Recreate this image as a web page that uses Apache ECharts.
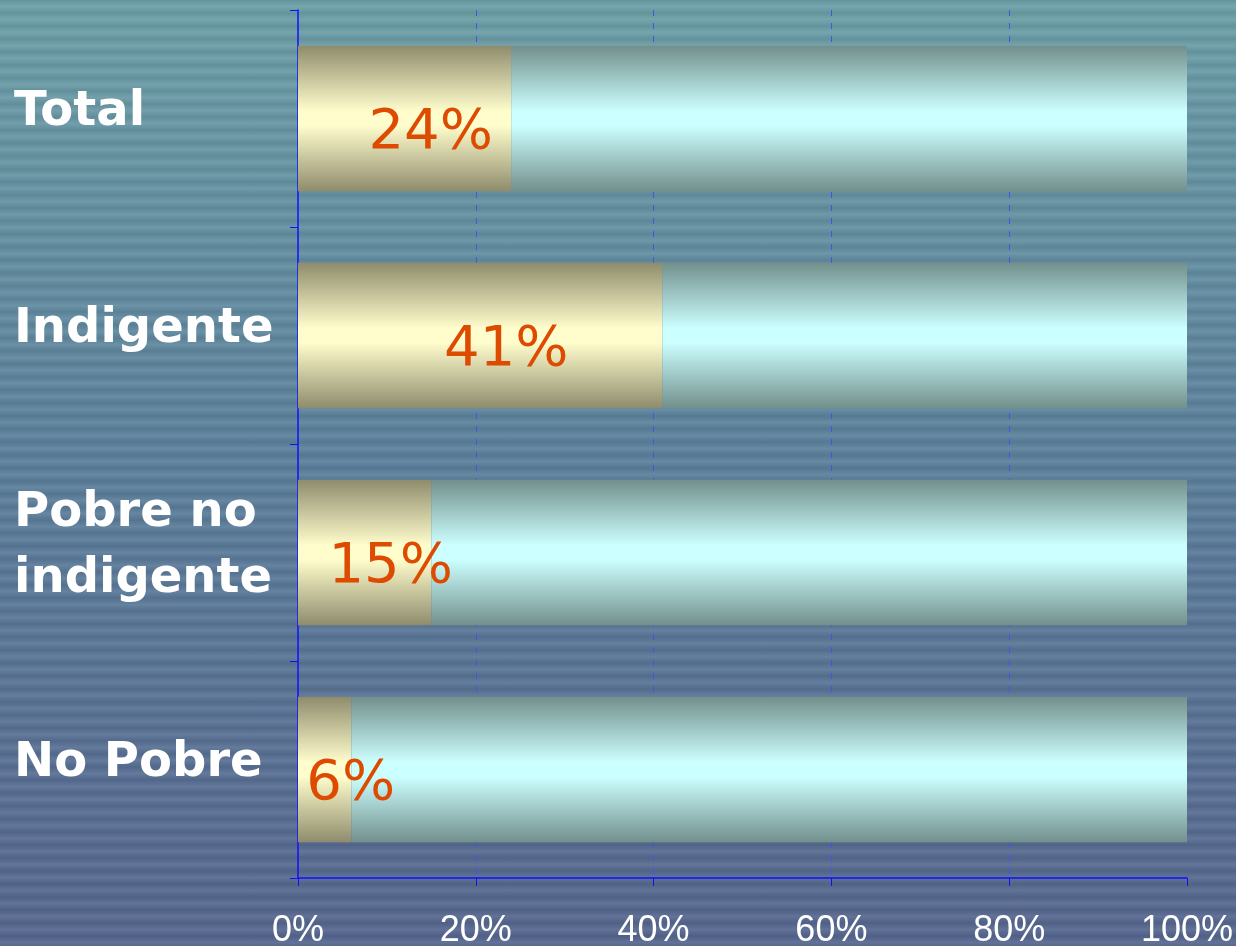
<!DOCTYPE html>
<html>
<head>
<meta charset="utf-8">
<script src="https://cdn.jsdelivr.net/npm/echarts@6/dist/echarts.min.js"></script>
<style>
html,body{margin:0;padding:0;}
body{
	width:1236px;height:946px;overflow:hidden;
	background:
		repeating-linear-gradient(to bottom, rgba(0,0,0,0.07) 0px, rgba(255,255,255,0.07) 6.5px, rgba(0,0,0,0.07) 13px),
		linear-gradient(to bottom, #6ca0a8 0%, #5b7f9c 50%, #56668f 100%);
}
#myChart{width:1236px;height:946px;}
</style>
</head>
<body>
<div id="myChart"></div>
<script type='text/javascript'>
//datos
var categorias = ['Total', 'Indigente', 'Pobre no\nindigente', 'No Pobre'];
var valores = [24, 41, 15, 6];
var resto = [76, 59, 85, 94];

function degradado(borde, centro)
{
	return new echarts.graphic.LinearGradient(0, 0, 0, 1, [
		{offset:0, color:borde},
		{offset:0.45, color:centro},
		{offset:0.55, color:centro},
		{offset:1, color:borde}
	]);
}

var option = {
	animation:false,
	grid:
	{
		left:298, right:49, top:10, bottom:68,
		outerBoundsMode:'none', containLabel:false
	},
	xAxis:
	{
		type:'value',
		min:0, max:100, interval:20,
		axisLine:{show:true, lineStyle:{color:'#1010ff', width:1.5}},
		axisTick:{show:true, length:8, lineStyle:{color:'#1010ff'}},
		splitLine:{show:true, showMinLine:false, showMaxLine:false, lineStyle:{color:'#3a5ae6', type:[6,7], width:1}},
		axisLabel:
		{
			color:'#ffffff', fontSize:36, margin:35,
			fontFamily:"'Liberation Sans Narrow', 'Arial Narrow', 'Liberation Sans', sans-serif",
			formatter:function(v){ return v + '%'; }
		}
	},
	yAxis:
	{
		type:'category',
		inverse:true,
		data:categorias,
		axisLine:{show:true, lineStyle:{color:'#1010ff', width:1.5}},
		axisTick:{show:true, length:8, lineStyle:{color:'#1010ff'}},
		axisLabel:
		{
			align:'left', margin:284,
			formatter:function(v)
			{
				return v.split('\n').map(function(l){ return '{a|' + l + '}'; }).join('\n');
			},
			rich:
			{
				a:
				{
					color:'#ffffff', fontSize:48, fontWeight:'bold', fontFamily:"'DejaVu Sans', sans-serif",
					lineHeight:66, padding:[0,0,12,0]
				}
			}
		}
	},
	series:
	[
		{
			name:'pct',
			type:'bar',
			stack:'total',
			barCategoryGap:'33%',
			data:valores,
			itemStyle:{color:degradado('#8f8c6d', '#fffdcc')},
			label:
			{
				show:true, position:'inside', offset:[26,15],
				color:'#dd4b00', fontSize:56, fontFamily:"'DejaVu Sans', sans-serif",
				formatter:'{c}%'
			}
		},
		{
			name:'resto',
			type:'bar',
			stack:'total',
			data:resto,
			itemStyle:{color:degradado('#72908c', '#ccffff')}
		}
	]
};
echarts.init(document.getElementById('myChart')).setOption(option);
</script>
</body>
</html>
